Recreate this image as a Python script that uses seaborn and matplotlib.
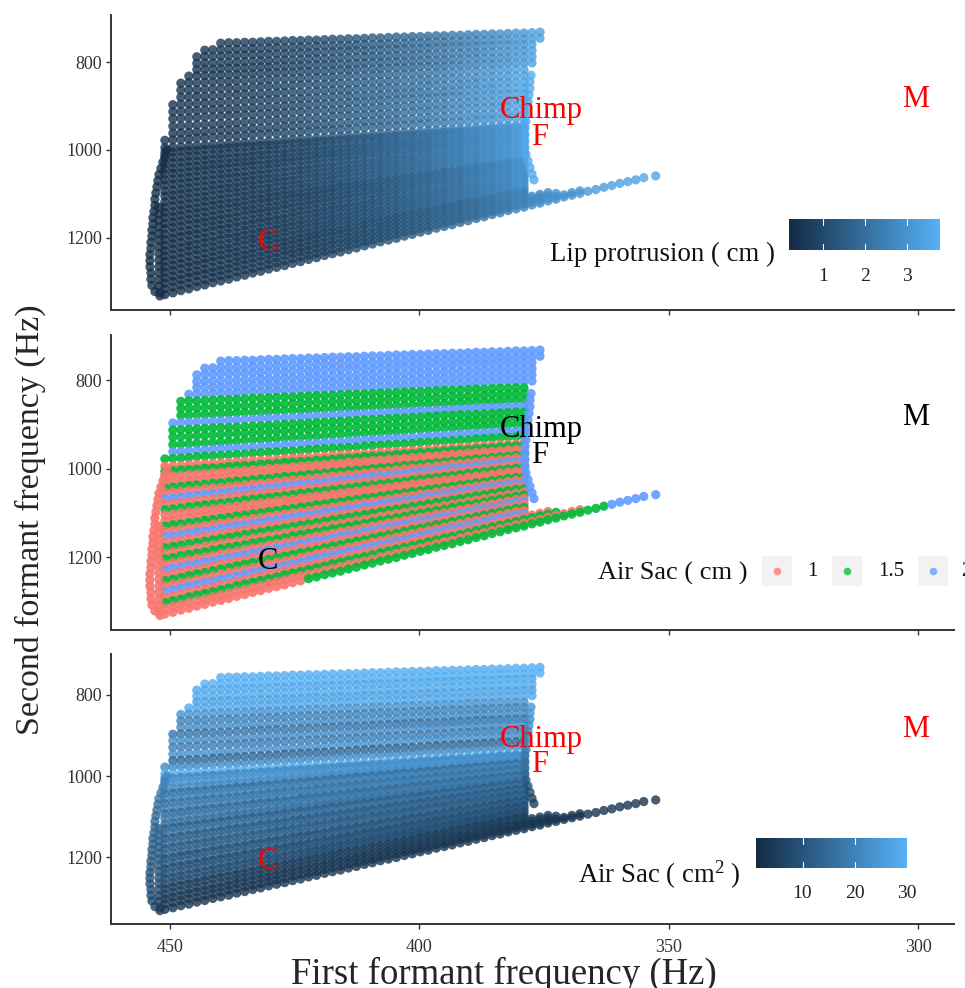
import matplotlib
matplotlib.use("Agg")
import matplotlib.pyplot as plt
import pandas as pd
import seaborn as sns
from matplotlib.cm import ScalarMappable
from matplotlib.colors import LinearSegmentedColormap, Normalize
from matplotlib.patches import Rectangle

# First formant of each grid column (Hz)
f1_columns = [454.2, 452.6, 451.0, 449.4, 447.8, 446.2, 444.6, 443.0, 441.4, 439.8, 438.2, 436.6, 435.0, 433.4, 431.8, 430.2,
              428.6, 427.0, 425.4, 423.8, 422.2, 420.6, 419.0, 417.4, 415.8, 414.2, 412.6, 411.0, 409.4, 407.8, 406.2, 404.6,
              403.0, 401.4, 399.8, 398.2, 396.6, 395.0, 393.4, 391.8, 390.2, 388.6, 387.0, 385.4, 383.8, 382.2, 380.6, 379.0,
              377.4, 375.8, 374.2, 372.6, 371.0, 369.4, 367.8, 366.2, 364.6, 363.0, 361.4, 359.8, 358.2, 356.6, 355.0, 352.6]

# Second formant along each strand
strands = [
    (9, [757,756,756,755,755,754,753,753,752,751,751,750,750,749,748,748,747,747,746,745,745,744,743,743,742,742,741,740,740,739,739,738,737,737,736,736,735,734,734,733,732]),
    (7, [773,772,772,771,771,770,769,769,768,767,767,766,765,765,764,763,763,762,762,761,760,760,759,758,758,757,756,756,755,754,754,753,753,752,751,751,750,749,749,748,747,747,746]),
    (6, [788,787,787,786,785,785,784,783,783,782,781,781,780,779,779,778,777,776,776,775,774,774,773,772,772,771,770,770,769,768,767,767,766,765,765,764,763,763,762,761,761,760,760]),
    (6, [803,802,802,801,800,800,799,798,797,797,796,795,795,794,793,792,792,791,790,790,789,788,787,787,786,785,785,784,783,782,782,781,780,780,779,778,777,777,776,775,775,774,774]),
    (6, [817,816,816,815,814,814,813,812,811,811,810,809,809,808,807,806,806,805,804,804,803,802,801,801,800,799,799,798,797,796,796,795,794,794,793,792,791,791,790,789,789,788,788]),
    (5, [832,831,831,830,829,829,828,827,826,826,825,824,823,823,822,821,821,820,819,818,818,817,816,816,815,814,813,813,812,811,810,810,809,808,808,807,806,805,805,804,803,803,802,802]),
    (4, [848,847,847,846,845,844,844,843,842,841,841,840,839,838,838,837,836,835,835,834,833,832,832,831,830,829,829,828,827,826,826,825,824,823,823,822,821,820,820,819,818,818,817,817]),
    (4, [864,863,863,862,861,860,859,859,858,857,856,855,855,854,853,852,851,851,850,849,848,848,847,846,845,844,844,843,842,841,840,840,839,838,837,837,836,835,834,833,833,832,831,831]),
    (4, [880,879,878,878,877,876,875,874,873,873,872,871,870,869,868,868,867,866,865,864,863,863,862,861,860,859,858,858,857,856,855,854,853,853,852,851,850,849,848,848,847,846,845,845]),
    (3, [897,896,895,894,893,893,892,891,890,889,888,887,886,885,885,884,883,882,881,880,879,878,877,877,876,875,874,873,872,871,870,869,869,868,867,866,865,864,863,862,861,861,860,859,859]),
    (3, [913,912,911,910,909,908,907,907,906,905,904,903,902,901,900,899,898,897,896,895,894,893,892,891,890,889,888,887,886,885,884,883,882,881,880,879,878,878,877,876,875,874,873,872,872]),
    (3, [929,928,927,926,925,924,923,922,921,920,919,918,917,916,915,914,913,912,911,910,909,908,907,906,905,904,903,902,901,900,899,898,897,896,895,894,893,892,891,890,889,888,887,886,886]),
    (3, [946,945,944,943,942,941,940,939,938,936,935,934,933,932,931,930,929,928,927,926,924,923,922,921,920,919,918,917,916,915,913,912,911,910,909,908,907,906,905,904,903,902,901,900,900]),
    (3, [962,961,960,959,958,956,955,954,953,952,951,950,949,948,946,945,944,943,942,941,940,939,938,936,935,934,933,932,931,930,929,928,926,925,924,923,922,921,920,919,918,917,916,915,914]),
    (2, [978,977,976,975,973,972,971,970,969,968,967,965,964,963,962,961,960,959,957,956,955,954,953,952,951,949,948,947,946,945,944,943,941,940,939,938,937,936,935,933,932,931,930,929,928,927]),
    (2, [995,994,993,991,990,989,988,987,986,984,983,982,981,980,979,977,976,975,974,973,972,970,969,968,967,966,965,963,962,961,960,959,958,956,955,954,953,952,951,949,948,947,946,945,944,941]),
    (2, [1006,1005,1003,1002,1001,999,998,997,995,994,993,992,990,989,988,986,985,984,983,981,980,979,977,976,975,973,972,971,970,968,967,966,964,963,962,960,959,958,957,955,954,953,951,950,949,948]),
    (2, [1019,1017,1016,1014,1013,1012,1010,1009,1007,1006,1005,1003,1002,1000,999,998,996,995,993,992,991,989,988,986,985,984,982,981,979,978,977,975,974,972,971,969,968,967,965,964,962,961,960,958,957,955]),
    (2, [1031,1029,1028,1026,1025,1023,1022,1020,1019,1017,1016,1014,1012,1011,1009,1008,1006,1005,1003,1002,1000,999,997,996,994,992,991,989,988,986,985,983,982,980,979,977,976,974,973,971,969,968,966,965,963,962]),
    (2, [1043,1042,1040,1038,1037,1035,1033,1032,1030,1028,1027,1025,1023,1022,1020,1018,1017,1015,1013,1012,1010,1008,1007,1005,1003,1002,1000,998,997,995,993,992,990,988,987,985,983,982,980,978,977,975,973,972,970,969]),
    (2, [1055,1053,1052,1050,1048,1046,1044,1043,1041,1039,1037,1035,1034,1032,1030,1028,1026,1025,1023,1021,1019,1017,1016,1014,1012,1010,1008,1007,1005,1003,1001,999,998,996,994,992,990,989,987,985,983,981,980,978,976,976]),
    (2, [1068,1066,1064,1062,1060,1058,1056,1055,1053,1051,1049,1047,1045,1043,1041,1039,1037,1036,1034,1032,1030,1028,1026,1024,1022,1020,1018,1017,1015,1013,1011,1009,1007,1005,1003,1001,999,998,996,994,992,990,988,986,984,983]),
    (2, [1080,1078,1076,1074,1072,1070,1068,1066,1064,1062,1060,1058,1056,1054,1052,1050,1048,1046,1044,1042,1040,1038,1036,1034,1032,1030,1028,1026,1024,1022,1020,1018,1016,1014,1012,1010,1008,1006,1004,1002,1000,998,996,994,992,990]),
    (2, [1093,1091,1089,1086,1084,1082,1080,1078,1076,1074,1071,1069,1067,1065,1063,1061,1059,1056,1054,1052,1050,1048,1046,1044,1041,1039,1037,1035,1033,1031,1029,1026,1024,1022,1020,1018,1016,1014,1011,1009,1007,1005,1003,1001,999,997]),
    (2, [1105,1103,1100,1098,1096,1094,1091,1089,1087,1085,1082,1080,1078,1076,1073,1071,1069,1067,1064,1062,1060,1058,1055,1053,1051,1049,1046,1044,1042,1040,1037,1035,1033,1031,1028,1026,1024,1022,1019,1017,1015,1013,1010,1008,1006,1004]),
    (2, [1118,1115,1113,1110,1108,1106,1103,1101,1098,1096,1094,1091,1089,1087,1084,1082,1079,1077,1075,1072,1070,1067,1065,1063,1060,1058,1055,1053,1051,1048,1046,1043,1041,1039,1036,1034,1031,1029,1027,1024,1022,1020,1017,1015,1012,1011]),
    (2, [1130,1127,1125,1122,1120,1117,1115,1112,1110,1107,1105,1102,1100,1097,1095,1092,1090,1087,1085,1082,1080,1077,1075,1072,1070,1067,1065,1062,1060,1057,1055,1052,1050,1047,1045,1042,1040,1037,1035,1032,1030,1027,1025,1022,1020,1018]),
    (2, [1142,1140,1137,1134,1132,1129,1126,1124,1121,1119,1116,1113,1111,1108,1105,1103,1100,1098,1095,1092,1090,1087,1084,1082,1079,1077,1074,1071,1069,1066,1063,1061,1058,1056,1053,1050,1048,1045,1042,1040,1037,1035,1032,1029,1027,1025]),
    (2, [1154,1152,1149,1146,1143,1141,1138,1135,1132,1129,1127,1124,1121,1118,1116,1113,1110,1107,1105,1102,1099,1096,1094,1091,1088,1085,1083,1080,1077,1074,1072,1069,1066,1063,1061,1058,1055,1052,1050,1047,1044,1041,1039,1036,1033,1032]),
    (2, [1167,1164,1161,1158,1156,1153,1150,1147,1144,1141,1138,1135,1133,1130,1127,1124,1121,1118,1115,1112,1110,1107,1104,1101,1098,1095,1092,1090,1087,1084,1081,1078,1075,1072,1069,1067,1064,1061,1058,1055,1052,1049,1046,1044,1041,1039]),
    (2, [1179,1176,1173,1170,1167,1164,1161,1158,1155,1152,1149,1146,1143,1140,1137,1134,1131,1128,1125,1122,1119,1116,1113,1110,1107,1104,1101,1098,1095,1092,1089,1086,1083,1080,1077,1074,1071,1068,1065,1062,1059,1056,1053,1050,1047,1046]),
    (2, [1192,1189,1186,1183,1180,1176,1173,1170,1167,1164,1161,1158,1155,1152,1149,1146,1142,1139,1136,1133,1130,1127,1124,1121,1118,1115,1112,1108,1105,1102,1099,1096,1093,1090,1087,1084,1081,1078,1074,1071,1068,1065,1062,1059,1056,1053]),
    (2, [1204,1201,1197,1194,1191,1188,1184,1181,1178,1175,1172,1168,1165,1162,1159,1156,1152,1149,1146,1143,1140,1136,1133,1130,1127,1124,1120,1117,1114,1111,1108,1104,1101,1098,1095,1092,1088,1085,1082,1079,1076,1072,1069,1066,1063,1060]),
    (2, [1217,1213,1210,1207,1203,1200,1197,1193,1190,1187,1183,1180,1177,1173,1170,1167,1163,1160,1157,1153,1150,1147,1143,1140,1137,1133,1130,1127,1123,1120,1117,1113,1110,1107,1103,1100,1097,1093,1090,1087,1083,1080,1077,1073,1070,1067]),
    (2, [1229,1225,1222,1218,1215,1211,1208,1204,1201,1198,1194,1191,1187,1184,1180,1177,1173,1170,1167,1163,1160,1156,1153,1149,1146,1142,1139,1136,1132,1129,1125,1122,1118,1115,1111,1108,1105,1101,1098,1094,1091,1087,1084,1080,1077,1074]),
    (2, [1241,1238,1234,1230,1227,1223,1220,1216,1213,1209,1205,1202,1198,1195,1191,1187,1184,1180,1177,1173,1170,1166,1162,1159,1155,1152,1148,1144,1141,1137,1134,1130,1127,1123,1119,1116,1112,1109,1105,1101,1098,1094,1091,1087,1084,1081]),
    (2, [1253,1250,1246,1242,1238,1235,1231,1227,1224,1220,1216,1212,1209,1205,1201,1198,1194,1190,1187,1183,1179,1175,1172,1168,1164,1161,1157,1153,1150,1146,1142,1138,1135,1131,1127,1124,1120,1116,1113,1109,1105,1101,1098,1094,1090,1088]),
    (2, [1266,1262,1258,1255,1251,1247,1243,1239,1235,1232,1228,1224,1220,1216,1212,1209,1205,1201,1197,1193,1189,1186,1182,1178,1174,1170,1166,1163,1159,1155,1151,1147,1143,1140,1136,1132,1128,1124,1120,1117,1113,1109,1105,1101,1097,1095]),
    (2, [1278,1274,1270,1266,1262,1258,1254,1250,1247,1243,1239,1235,1231,1227,1223,1219,1215,1211,1207,1203,1199,1195,1191,1187,1184,1180,1176,1172,1168,1164,1160,1156,1152,1148,1144,1140,1136,1132,1128,1124,1121,1117,1113,1109,1105,1102]),
    (2, [1291,1287,1283,1279,1275,1271,1267,1263,1259,1254,1250,1246,1242,1238,1234,1230,1226,1222,1218,1214,1210,1206,1202,1198,1194,1190,1186,1181,1177,1173,1169,1165,1161,1157,1153,1149,1145,1141,1137,1133,1129,1125,1121,1117,1113,1109,1105,1101,1097]),
    (2, [1303,1299,1295,1290,1286,1282,1278,1274,1270,1265,1261,1257,1253,1249,1245,1240,1236,1232,1228,1224,1220,1215,1211,1207,1203,1199,1195,1190,1186,1182,1178,1174,1170,1165,1161,1157,1153,1149,1145,1140,1136,1132,1128,1124,1120,1115,1111,1107,1103,1099]),
    (2, [1316,1312,1307,1303,1299,1295,1290,1286,1282,1277,1273,1269,1265,1260,1256,1252,1247,1243,1239,1235,1230,1226,1222,1217,1213,1209,1205,1200,1196,1192,1187,1183,1179,1175,1170,1166,1162,1157,1153,1149,1145,1140,1136,1132,1127,1123,1119,1115,1110,1106,1102,1097,1093]),
    (2, [1329,1325,1320,1316,1311,1307,1302,1298,1294,1289,1285,1280,1276,1271,1267,1263,1258,1254]),
    (20, [1249,1245,1240,1236,1232,1227,1223,1218,1214,1209,1205,1201,1196,1192,1187,1183,1178,1174,1170,1165,1161,1156,1152,1147,1143,1138,1134,1130,1125,1121,1116,1112,1107,1103,1099,1094,1090,1085]),
    (58, [1081,1076,1072,1068,1063,1059]),
]

# One value per strand
strand_sac = ["2", "2", "2", "2", "2", "2",
              "1.5", "1.5", "1.5", "2", "1.5", "1.5", "1.5", "2", "1.5", "1",
              "1.5", "1", "1", "1.5", "1", "2", "1", "1.5", "1", "1", "1.5", "1", "2", "1",
              "1.5", "1", "1.5", "1", "2", "1", "1.5", "1", "2", "1", "1.5", "1", "1", "1.5", "2"]
strand_area = [29, 30, 28, 29, 27, 28,
               24, 20, 22, 17, 22, 19, 23, 14, 21, 29,
               21, 24, 22, 15, 21, 16, 20, 14, 19, 16, 12, 17, 11, 15,
               11, 14, 9, 13, 8, 11, 8, 9, 5, 6, 4, 4, 3, 3, 3]
strand_band = [0, 0, 0, 0, 0, 0,
               1, 1, 1, 1, 1, 1, 1, 1, 1, 1,
               2, 2, 2, 2, 2, 2, 2, 2, 2, 2, 2,
               3, 3, 3, 3, 3, 3, 3, 3, 3, 3,
               4, 4, 4, 4, 4, 4, 4, 4]

# Lip protrusion (cm): row band by pair of columns
lip_table = [
    [.4, .4, .45, .5, .55, .6, .65, .7, .8, .9, 1.0, 1.1, 1.2, 1.3, 1.45, 1.6, 1.75, 1.9, 2.05, 2.25, 2.45, 2.65, 2.85, 3.05, 3.3, 3.5, 3.6, 3.7, 3.7, 3.7, 3.8, 3.8],
    [.35, .4, .45, .5, .55, .6, .7, .8, .9, 1.0, 1.1, 1.2, 1.35, 1.5, 1.65, 1.8, 1.95, 2.1, 2.3, 2.5, 2.7, 2.9, 3.1, 3.35, 3.6, 3.65, 3.7, 3.7, 3.7, 3.7, 3.8, 3.8],
    [.3, .35, .4, .45, .5, .55, .6, .7, .8, .9, 1.0, 1.1, 1.25, 1.4, 1.55, 1.7, 1.85, 2.0, 2.2, 2.4, 2.6, 2.8, 3.0, 3.2, 3.5, 3.6, 3.6, 3.7, 3.7, 3.7, 3.7, 3.7],
    [.25, .3, .35, .4, .45, .5, .55, .6, .7, .75, .85, .95, 1.05, 1.2, 1.3, 1.45, 1.6, 1.75, 1.9, 2.05, 2.25, 2.45, 2.65, 2.9, 3.2, 3.3, 3.4, 3.5, 3.5, 3.6, 3.6, 3.7],
    [.2, .25, .3, .35, .4, .45, .5, .55, .6, .65, .7, .8, .9, 1.0, 1.1, 1.2, 1.35, 1.45, 1.6, 1.75, 1.9, 2.1, 2.3, 2.5, 2.7, 2.9, 3.0, 3.1, 3.2, 3.3, 3.4, 3.5],
]

# Rim of the body on the right and on the left
right_f1 = [377.6, 377.8, 377.8, 378.0, 378.2, 378.4, 378.6, 378.6, 378.8, 378.8, 378.8, 378.8, 378.6, 378.2, 377.8, 377.4, 377.0]
right_f2 = [830, 845, 860, 875, 890, 905, 920, 935, 950, 965, 980, 995, 1010, 1025, 1040, 1055, 1068]
right_area = [24, 24, 22, 22, 20, 20, 20, 18, 18, 16, 16, 14, 12, 10, 8, 6, 5]
left_f1 = [450.6, 451.0, 451.4, 451.8, 452.2, 452.4, 452.6, 452.8, 453.0, 453.0, 453.2, 453.4, 453.4, 453.6, 453.6,
           453.8, 453.8, 454.0, 454.0, 454.0, 453.8, 453.8, 453.6, 453.0, 452.0]
left_f2 = [1000, 1014, 1028, 1042, 1056, 1070, 1084, 1098, 1112, 1126, 1140, 1154, 1168, 1182, 1196,
           1210, 1224, 1238, 1252, 1266, 1280, 1294, 1308, 1322, 1332]
left_area = [22, 20, 20, 18, 18, 16, 16, 15, 15, 14, 14, 13, 13, 12, 12, 11, 11, 10, 10, 9, 9, 8, 7, 6, 5]
inner_f1 = [452.2, 452.2, 452.2, 452.2, 452.2, 452.2, 452.2, 452.2, 452.2, 452.2, 452.2, 452.2, 452.2, 452.0]
inner_f2 = [1130, 1145, 1160, 1175, 1190, 1205, 1220, 1235, 1250, 1265, 1280, 1295, 1310, 1325]
inner_area = [14, 13, 13, 12, 12, 11, 11, 10, 10, 9, 8, 7, 6, 5]

labels_text = ["Chimp", "F", "M", "C"]
labels_f1 = [375.6, 375.8, 300.4, 430.3]
labels_f2 = [911, 971, 885, 1211]

x_ticks = [450, 400, 350, 300]
y_ticks = [800, 1000, 1200]
sac_levels = ["1", "1.5", "2"]
sac_colors = ["#F8766D", "#00BA38", "#619CFF"]

sns.set_theme(style="ticks")
plt.rcParams["font.family"] = ["Liberation Serif", "DejaVu Sans"]
plt.rcParams["mathtext.fontset"] = "custom"
plt.rcParams["mathtext.rm"] = "Liberation Serif"
plt.rcParams["mathtext.default"] = "regular"

# Tabla de puntos: una fila por punto
rows = []
for i, (start, values) in enumerate(strands):
    for j, f2 in enumerate(values):
        col = start + j
        rows.append((f1_columns[col], f2, lip_table[strand_band[i]][col // 2], strand_sac[i], strand_area[i]))
for f1, f2, area in zip(inner_f1, inner_f2, inner_area):
    rows.append((f1, f2, 0.25, "1", area))
for f1, f2, area in zip(left_f1, left_f2, left_area):
    rows.append((f1, f2, 0.3, "1", area))
for f1, f2, area in zip(right_f1, right_f2, right_area):
    rows.append((f1, f2, 3.6, "2", area))
df = pd.DataFrame(rows, columns=["f1", "f2", "lip", "sac", "area"])

W, H = 965, 988
fig = plt.figure(figsize=(W / 100, H / 100), dpi=100)
gradient = LinearSegmentedColormap.from_list("gg", ["#132B43", "#56B1F7"])
POINT = 44


def add_panel(top, bottom, ylim):
    ax = fig.add_axes([111 / W, 1 - bottom / H, (954 - 111) / W, (bottom - top) / H])
    ax.set_xlim(461.8, 292.8)
    ax.set_ylim(*ylim)
    return ax


def finish_panel(ax, text_color, show_x):
    ax.set_xlim(461.8, 292.8)
    ax.set_xticks(x_ticks)
    ax.set_yticks(y_ticks)
    ax.set_xlabel("")
    ax.set_ylabel("")
    ax.tick_params(length=3.5, width=1, color="#333333", labelcolor="#333333", labelsize=13, labelbottom=show_x, pad=3)
    ax.tick_params(axis="x", pad=7)
    sns.despine(ax=ax)
    for side in ["left", "bottom"]:
        ax.spines[side].set_linewidth(1.4)
        ax.spines[side].set_color("#333333")
    for txt, x, y in zip(labels_text, labels_f1, labels_f2):
        ax.text(x, y, txt, color=text_color, fontsize=22, ha="center", va="center")


ax1 = add_panel(15, 310, (1364, 693))
sns.scatterplot(data=df, x="f1", y="f2", hue="lip", palette=gradient, hue_norm=(0.18, 3.8), s=POINT, alpha=0.8,
                linewidth=0, legend=False, ax=ax1)
finish_panel(ax1, "red", False)

ax2 = add_panel(335, 630, (1365, 698))
sns.scatterplot(data=df, x="f1", y="f2", hue="sac", palette=dict(zip(sac_levels, sac_colors)), hue_order=sac_levels,
                s=POINT, alpha=0.9, linewidth=0, legend=False, ax=ax2)
finish_panel(ax2, "black", False)

ax3 = add_panel(654, 924, (1365, 699))
sns.scatterplot(data=df, x="f1", y="f2", hue="area", palette=gradient, hue_norm=(1.1, 30), s=POINT, alpha=0.8,
                linewidth=0, legend=False, ax=ax3)
finish_panel(ax3, "red", True)

fig.text(30 / W, 1 - 520 / H, "Second formant frequency (Hz)", rotation=90, fontsize=24.5, ha="center", va="center")
fig.text(504 / W, 1 - 974 / H, "First formant frequency (Hz)", fontsize=26.5, ha="center", va="center")


def add_colorbar(x0, x1, y0, y1, vmin, vmax, ticks, title, title_x, title_y, pad):
    cax = fig.add_axes([x0 / W, 1 - y1 / H, (x1 - x0) / W, (y1 - y0) / H])
    cb = fig.colorbar(ScalarMappable(Normalize(vmin, vmax), gradient), cax=cax, orientation="horizontal")
    cb.outline.set_visible(False)
    cb.set_ticks(ticks)
    cax.tick_params(length=0, labelsize=14, pad=pad, labelcolor="#222222")
    for t in ticks:
        cax.plot([t, t], [0, 0.2], color="white", lw=0.8)
        cax.plot([t, t], [0.8, 1], color="white", lw=0.8)
    cax.set_xlim(vmin, vmax)
    cax.set_ylim(0, 1)
    fig.text(title_x / W, 1 - title_y / H, title, fontsize=19.3, ha="right", va="center", color="#111111")


add_colorbar(789, 940, 219, 250, 0.18, 3.8, [1, 2, 3], "Lip protrusion ( cm )", 775, 254, 13)
add_colorbar(756, 907, 838, 868, 1.1, 30, [10, 20, 30], "Air Sac ( cm$^{2}$ )", 741, 875, 12)

# Leyenda discreta del panel central
overlay = fig.add_axes([0, 0, 1, 1], facecolor="none")
overlay.set_xlim(0, W)
overlay.set_ylim(H, 0)
overlay.axis("off")
overlay.text(748, 573, "Air Sac ( cm )", fontsize=19, ha="right", va="center", color="#111111")
for key_x, label_x, level, color in zip([762, 832, 918], [812, 891, 966], sac_levels, sac_colors):
    overlay.add_patch(Rectangle((key_x, 556), 30, 30, color="#F2F2F2", lw=0))
    overlay.scatter([key_x + 15], [571], s=30, color=color, alpha=0.75, linewidth=0)
    overlay.text(label_x, 571, level, fontsize=15, ha="center", va="center", color="#111111", clip_on=False)

fig.savefig("out.png", dpi=100)
